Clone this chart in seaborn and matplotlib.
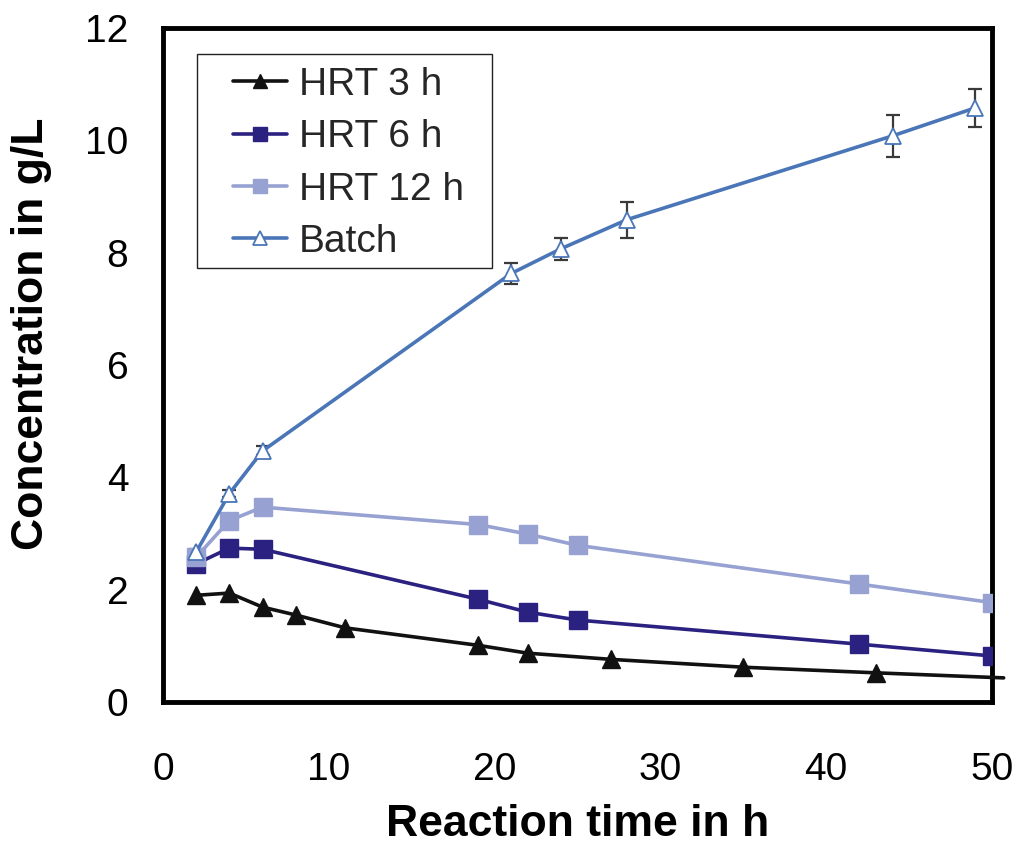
import matplotlib
matplotlib.use("Agg")
import matplotlib.pyplot as plt
import matplotlib.patches as mpatches
import seaborn as sns
import pandas as pd

# ---- data ----
hrt3_x = [2, 4, 6, 8, 11, 19, 22, 27, 35, 43, 50.7]
hrt3_y = [1.90, 1.94, 1.69, 1.55, 1.32, 1.01, 0.87, 0.76, 0.62, 0.52, 0.43]

hrt6_x = [2, 4, 6, 19, 22, 25, 42, 50]
hrt6_y = [2.46, 2.74, 2.72, 1.83, 1.60, 1.46, 1.03, 0.82]

hrt12_x = [2, 4, 6, 19, 22, 25, 42, 50]
hrt12_y = [2.58, 3.23, 3.47, 3.16, 2.99, 2.79, 2.10, 1.77]

batch_x = [2, 4, 6, 21, 24, 28, 44, 49]
batch_y = [2.67, 3.71, 4.47, 7.63, 8.07, 8.59, 10.08, 10.58]
batch_err = [0.05, 0.06, 0.08, 0.18, 0.20, 0.32, 0.37, 0.34]

labels = ["HRT 3 h", "HRT 6 h", "HRT 12 h", "Batch"]
x_ticks = [0, 10, 20, 30, 40, 50]
y_ticks = [0, 2, 4, 6, 8, 10, 12]

sns.set_theme(style="white")
plt.rcParams["font.family"] = ["Liberation Sans", "DejaVu Sans"]

fig = plt.figure(figsize=(10.24, 8.49), dpi=100)
ax = fig.add_axes([0.1592, 0.1731, 0.8096, 0.7939])

c3, c6, c12, cb = "#111111", "#2b2180", "#97a2d2", "#4a76b8"

sns.lineplot(x=hrt3_x, y=hrt3_y, ax=ax, color=c3, marker="^", markersize=12.5,
             markeredgecolor=c3, markeredgewidth=1, linewidth=2.6,
             label=labels[0], clip_on=False, zorder=3, sort=False)
sns.lineplot(x=hrt6_x, y=hrt6_y, ax=ax, color=c6, marker="s", markersize=13,
             markeredgecolor=c6, markeredgewidth=1, linewidth=2.6,
             label=labels[1], zorder=3, sort=False)
sns.lineplot(x=hrt12_x, y=hrt12_y, ax=ax, color=c12, marker="s", markersize=13,
             markeredgecolor=c12, markeredgewidth=1, linewidth=2.6,
             label=labels[2], zorder=3, sort=False)
ax.errorbar(batch_x, batch_y, yerr=batch_err, fmt="none", ecolor="#3a3a3a",
            elinewidth=1.6, capsize=5, capthick=1.6, zorder=2)
sns.lineplot(x=batch_x, y=batch_y, ax=ax, color=cb, marker="^", markersize=12,
             markerfacecolor="white", markeredgecolor=cb, markeredgewidth=1.3,
             linewidth=2.6, label=labels[3], zorder=4, sort=False)

ax.set_xlim(0, 50)
ax.set_ylim(0, 12)
ax.set_xticks(x_ticks)
ax.set_yticks(y_ticks)

for s in ax.spines.values():
    s.set_visible(True)
    s.set_color("black")
    s.set_linewidth(3.5)

ax.tick_params(axis="both", which="major", direction="out", length=9, width=1.5,
               color="#222222", labelsize=28, labelcolor="black")
ax.tick_params(axis="x", pad=27)
ax.tick_params(axis="y", pad=16)

ax.set_xlabel("Reaction time in h", fontsize=32, fontweight="bold", color="black")
ax.set_ylabel("Concentration in g/L", fontsize=32, fontweight="bold", color="black")
ax.xaxis.set_label_coords(0.5, -0.152)
ax.yaxis.set_label_coords(-0.134, 0.546)

# legend
leg = ax.legend(loc="upper left", bbox_to_anchor=(0.0844, 0.942), frameon=False,
                fontsize=28, borderpad=0, borderaxespad=0, handlelength=1.4,
                handletextpad=0.3, labelspacing=0.42, markerscale=0.8)
leg.set_zorder(6)
frame = mpatches.Rectangle((0.041, 0.644), 0.356, 0.3175, transform=ax.transAxes,
                           facecolor="white", edgecolor="#222222", linewidth=1.0,
                           zorder=5)
ax.add_patch(frame)

# last HRT 3 h point is drawn as line only (no marker)
ax.lines[0].set_markevery(list(range(len(hrt3_x) - 1)))

fig.savefig("out.png", dpi=100)
